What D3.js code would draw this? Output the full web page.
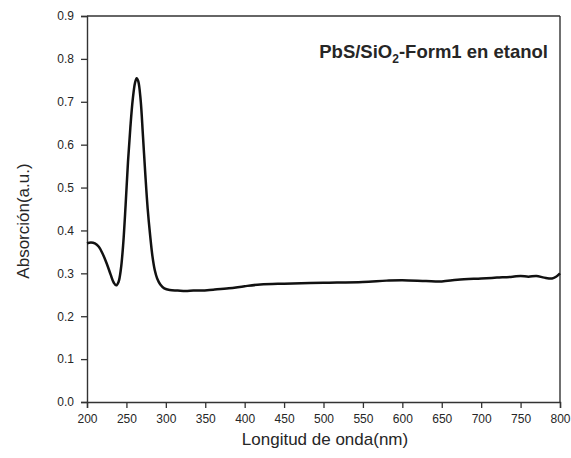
<!DOCTYPE html>
<html>
<head>
<meta charset="utf-8">
<script src="https://cdn.jsdelivr.net/npm/d3@7"></script>
<style>
  html, body { margin: 0; padding: 0; background: #fff; }
  svg { display: block; font-family: "Liberation Sans", Arial, sans-serif; }
</style>
</head>
<body>
<svg id="chart" width="571" height="458"></svg>
<script>
// UV-Vis absorption spectrum, wavelength (nm) vs absorbance (a.u.)
const wavelength = [200, 205, 210, 215, 220, 225, 230, 234, 237, 240, 243, 246, 249, 252, 255, 258, 261, 263, 265, 268, 271, 274, 277, 280, 283, 286, 289, 293, 298, 305, 315, 325, 335, 345, 360, 380, 400, 420, 450, 500, 550, 580, 600, 630, 650, 670, 700, 720, 740, 750, 760, 770, 780, 790, 795, 800];
const absorbance = [0.370, 0.372, 0.370, 0.362, 0.345, 0.323, 0.297, 0.278, 0.272, 0.280, 0.310, 0.370, 0.460, 0.560, 0.640, 0.705, 0.745, 0.755, 0.748, 0.705, 0.620, 0.530, 0.450, 0.390, 0.340, 0.307, 0.288, 0.274, 0.265, 0.261, 0.260, 0.259, 0.260, 0.260, 0.262, 0.265, 0.270, 0.274, 0.276, 0.278, 0.280, 0.283, 0.284, 0.282, 0.281, 0.285, 0.288, 0.290, 0.292, 0.294, 0.292, 0.294, 0.290, 0.288, 0.292, 0.300];
const xTicks = [200, 250, 300, 350, 400, 450, 500, 550, 600, 650, 700, 750, 800];
const yTicks = [0.0, 0.1, 0.2, 0.3, 0.4, 0.5, 0.6, 0.7, 0.8, 0.9];

const svg = d3.select("#chart");
const m = { left: 87, right: 560, top: 16, bottom: 402 };
const axisColor = "#333";
const textColor = "#262626";

const x = d3.scaleLinear().domain([200, 800]).range([m.left, m.right]);
const y = d3.scaleLinear().domain([0, 0.9]).range([m.bottom, m.top]);

// frame: top and right edges
svg.append("line").attr("x1", m.left).attr("x2", m.right).attr("y1", m.top).attr("y2", m.top)
  .attr("stroke", axisColor).attr("stroke-width", 1.4);
svg.append("line").attr("x1", m.right).attr("x2", m.right).attr("y1", m.top).attr("y2", m.bottom)
  .attr("stroke", axisColor).attr("stroke-width", 1.4);

const xAxis = svg.append("g").attr("transform", `translate(0,${m.bottom})`)
  .call(d3.axisBottom(x).tickValues(xTicks).tickFormat(d3.format("d")).tickSizeOuter(0).tickSize(6).tickPadding(6));
const yAxis = svg.append("g").attr("transform", `translate(${m.left},0)`)
  .call(d3.axisLeft(y).tickValues(yTicks).tickFormat(d3.format(".1f")).tickSizeOuter(0).tickSize(6).tickPadding(7));

[xAxis, yAxis].forEach(g => {
  g.select(".domain").attr("stroke", axisColor).attr("stroke-width", 1.4);
  g.selectAll(".tick line").attr("stroke", axisColor).attr("stroke-width", 1.3);
  g.selectAll(".tick text").attr("fill", textColor).style("font-size", "12px")
    .style("font-family", "'Liberation Sans', Arial, sans-serif");
});

// spectrum
const line = d3.line().x((d, i) => x(wavelength[i])).y(d => y(d)).curve(d3.curveCatmullRom.alpha(0.5));
svg.append("path").datum(absorbance).attr("d", line)
  .attr("fill", "none").attr("stroke", "#111").attr("stroke-width", 2.5)
  .attr("stroke-linejoin", "round");

// axis titles
svg.append("text").attr("x", 325).attr("y", 445)
  .attr("text-anchor", "middle").attr("fill", textColor).style("font-size", "17px")
  .text("Longitud de onda(nm)");
svg.append("text").attr("transform", `translate(29,221) rotate(-90)`)
  .attr("text-anchor", "middle").attr("fill", textColor).style("font-size", "17px")
  .text("Absorción(a.u.)");

// sample label
const lab = svg.append("text").attr("x", 548).attr("y", 58).attr("text-anchor", "end")
  .attr("fill", textColor).style("font-size", "18.5px").style("font-weight", "bold");
lab.append("tspan").text("PbS/SiO");
lab.append("tspan").attr("dy", 5).style("font-size", "12px").text("2");
lab.append("tspan").attr("dy", -5).text("-Form1 en etanol");
</script>
</body>
</html>
